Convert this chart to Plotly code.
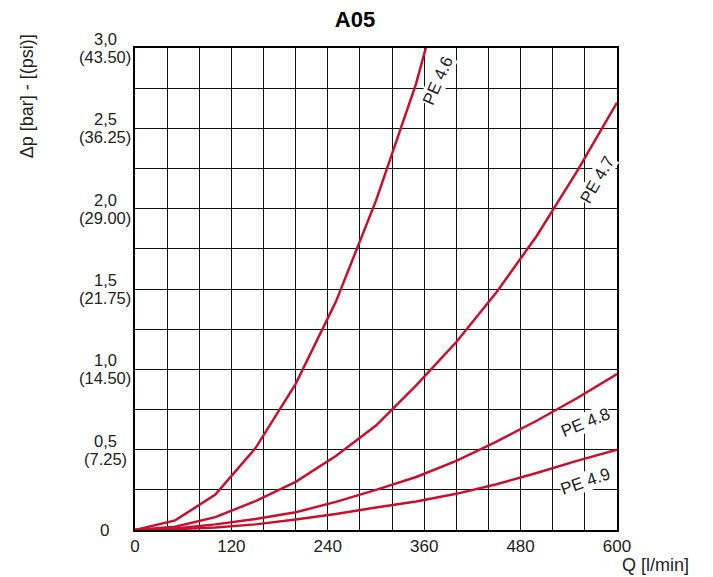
import plotly.graph_objects as go

# ---- data ----
q_pe46 = [0, 50, 100, 150, 200, 250, 300, 350, 362]
dp_pe46 = [0, 0.06, 0.22, 0.51, 0.91, 1.42, 2.05, 2.78, 3.0]

q_common = [0, 50, 100, 150, 200, 250, 300, 350, 400, 450, 500, 550, 600]
dp_pe47 = [0, 0.02, 0.08, 0.18, 0.30, 0.46, 0.65, 0.90, 1.17, 1.48, 1.83, 2.23, 2.66]
dp_pe48 = [0, 0.01, 0.035, 0.068, 0.11, 0.175, 0.25, 0.33, 0.43, 0.55, 0.68, 0.82, 0.97]
dp_pe49 = [0, 0.005, 0.015, 0.035, 0.065, 0.10, 0.14, 0.178, 0.225, 0.285, 0.355, 0.43, 0.50]

series_names = ["PE 4.6", "PE 4.7", "PE 4.8", "PE 4.9"]
label_pos_q = [377, 576, 561, 561]
label_pos_dp = [2.80, 2.18, 0.67, 0.30]
label_angle = [-66, -60, -22, -19]

x_ticks = list(range(0, 601, 40))
x_ticklabels = ["0" if v == 0 else (str(v) if v % 120 == 0 else "") for v in x_ticks]

y_label_vals = [3.0, 2.5, 2.0, 1.5, 1.0, 0.5]
y_label_bar = ["3,0", "2,5", "2,0", "1,5", "1,0", "0,5"]
y_label_psi = ["(43.50)", "(36.25)", "(29.00)", "(21.75)", "(14.50)", "(7.25)"]

RED = "#c8102e"
FONT = "Liberation Sans, Arial, sans-serif"
TXT = "#222222"

# page has an 8px body margin: figure is drawn from (8, 8)
W, H = 705, 569

fig = go.Figure()
for q, dp, name in [(q_pe46, dp_pe46, series_names[0]),
                    (q_common, dp_pe47, series_names[1]),
                    (q_common, dp_pe48, series_names[2]),
                    (q_common, dp_pe49, series_names[3])]:
    fig.add_trace(go.Scatter(x=q, y=dp, mode="lines", name=name,
                             line=dict(color=RED, width=2.5), showlegend=False))

annotations = []
for name, xq, yd, ang in zip(series_names, label_pos_q, label_pos_dp, label_angle):
    annotations.append(dict(x=xq, y=yd, xref="x", yref="y", text=name, showarrow=False,
                            textangle=ang, bgcolor="white", borderpad=0,
                            font=dict(family=FONT, size=17, color=TXT)))

for v, b, p in zip(y_label_vals, y_label_bar, y_label_psi):
    annotations.append(dict(x=-0.062, y=v, xref="paper", yref="y", text=b, showarrow=False,
                            xanchor="center", yanchor="middle", yshift=9,
                            font=dict(family=FONT, size=16.5, color=TXT)))
    annotations.append(dict(x=-0.062, y=v, xref="paper", yref="y", text=p, showarrow=False,
                            xanchor="center", yanchor="middle", yshift=-9,
                            font=dict(family=FONT, size=16.5, color=TXT)))
annotations.append(dict(x=-0.064, y=0, xref="paper", yref="y", text="0", showarrow=False,
                        xanchor="center", yanchor="middle",
                        font=dict(family=FONT, size=17, color=TXT)))

annotations.append(dict(x=1.006, y=-0.048, xref="paper", yref="paper", text="Q [l/min]",
                        showarrow=False, xanchor="left", yanchor="top",
                        font=dict(family=FONT, size=18, color=TXT)))
annotations.append(dict(x=-0.224, y=0.90, xref="paper", yref="paper",
                        text="Δp [bar] - [(psi)]", showarrow=False, textangle=-90,
                        xanchor="center", yanchor="middle",
                        font=dict(family=FONT, size=18, color=TXT)))

fig.update_layout(
    width=W, height=H,
    margin=dict(l=127, r=96, t=40, b=47),
    paper_bgcolor="white", plot_bgcolor="white",
    title=dict(text="<b>A05</b>", x=(355 - 8) / W, xanchor="center",
               y=1 - (19 - 8) / H, yanchor="middle",
               font=dict(family=FONT, size=22, color="black")),
    annotations=annotations,
)
fig.update_xaxes(range=[0, 600], tickvals=x_ticks, ticktext=x_ticklabels,
                 showgrid=True, gridcolor="#111111", gridwidth=1,
                 showline=True, linecolor="black", linewidth=2, mirror=True,
                 ticks="", zeroline=False,
                 tickfont=dict(family=FONT, size=17, color=TXT))
fig.update_yaxes(range=[0, 3.0], dtick=0.25, showticklabels=False,
                 showgrid=True, gridcolor="#111111", gridwidth=1,
                 showline=True, linecolor="black", linewidth=2, mirror=True,
                 ticks="", zeroline=False)

fig.write_html("out.html")
